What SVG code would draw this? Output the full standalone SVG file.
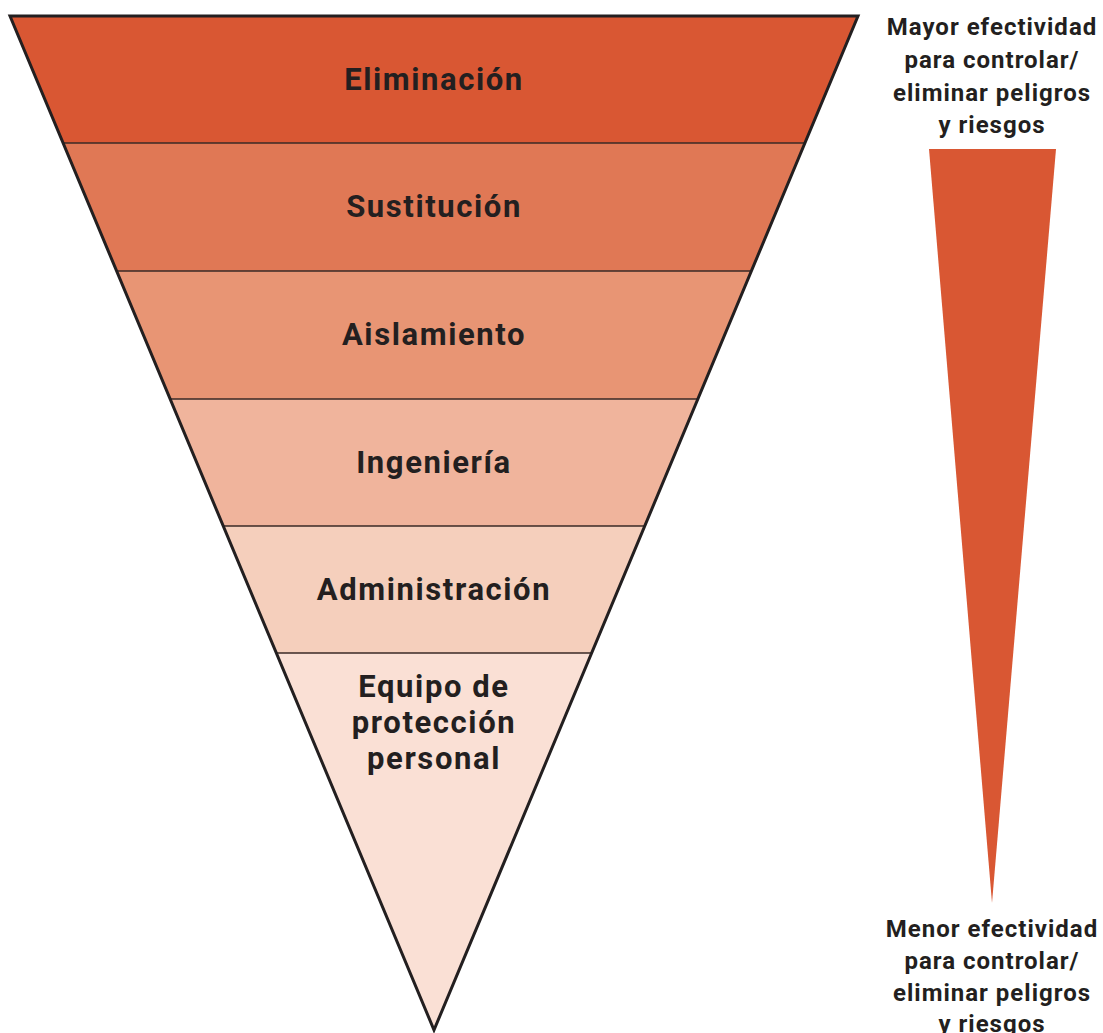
<svg xmlns="http://www.w3.org/2000/svg" width="1103" height="1033" viewBox="0 0 1103 1033">
<style>
.lbl{font-family:Roboto,"Liberation Sans",sans-serif;font-weight:bold;font-size:31px;fill:#231F20;text-anchor:middle;letter-spacing:1.6px}
.side{font-family:Roboto,"Liberation Sans",sans-serif;font-weight:bold;font-size:24px;fill:#231F20;text-anchor:middle;letter-spacing:1px}
.sep{stroke:#3a2a26;stroke-width:1.5;fill:none}
</style>
<rect width="1103" height="1033" fill="#ffffff"/>
<g id="band1"><polygon points="10,16 858,16 805,143 63,143" fill="#D95733"/><text class="lbl" x="434" y="90">Eliminación</text></g>
<g id="band2"><polygon points="63,143 805,143 751,271 117,271" fill="#E07855"/><text class="lbl" x="434" y="217">Sustitución</text></g>
<g id="band3"><polygon points="117,271 751,271 698,399 170,399" fill="#E89574"/><text class="lbl" x="434" y="345">Aislamiento</text></g>
<g id="band4"><polygon points="170,399 698,399 645,526 223,526" fill="#F0B49C"/><text class="lbl" x="434" y="473">Ingeniería</text></g>
<g id="band5"><polygon points="223,526 645,526 592,653 276,653" fill="#F5CFBC"/><text class="lbl" x="434" y="600">Administración</text></g>
<g id="band6"><polygon points="276,653 592,653 434,1030" fill="#FAE0D5"/><text class="lbl" x="434" y="697">Equipo de</text><text class="lbl" x="434" y="733">protección</text><text class="lbl" x="434" y="769">personal</text></g>
<g id="lines">
<line class="sep" x1="63" y1="143" x2="805" y2="143"/>
<line class="sep" x1="117" y1="271" x2="751" y2="271"/>
<line class="sep" x1="170" y1="399" x2="698" y2="399"/>
<line class="sep" x1="223" y1="526" x2="645" y2="526"/>
<line class="sep" x1="276" y1="653" x2="592" y2="653"/>
<polygon points="10,16 858,16 434,1030" fill="none" stroke="#231F20" stroke-width="3" stroke-linejoin="miter"/>
</g>
<g id="wedge"><polygon points="929,149 1056,149 992,903" fill="#D95733"/></g>
<g id="top-label">
<text class="side" x="992" y="35">Mayor efectividad</text>
<text class="side" x="992" y="68">para controlar/</text>
<text class="side" x="992" y="101">eliminar peligros</text>
<text class="side" x="992" y="133">y riesgos</text>
</g>
<g id="bottom-label">
<text class="side" x="992" y="937">Menor efectividad</text>
<text class="side" x="992" y="969">para controlar/</text>
<text class="side" x="992" y="1001">eliminar peligros</text>
<text class="side" x="992" y="1032">y riesgos</text>
</g>
</svg>
